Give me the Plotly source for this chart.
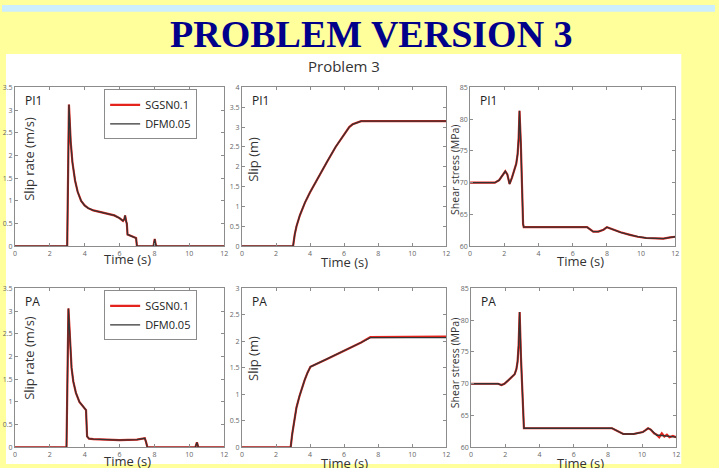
import plotly.graph_objects as go

W, H = 719, 468

# ---------------- data ----------------
time_ticks = [0, 2, 4, 6, 8, 10, 12]

# PI1 slip rate (m/s)
t_sr_pi1 = [0, 3.0, 3.1, 3.2, 3.3, 3.45, 3.6, 3.8, 4.0, 4.2, 4.5, 4.9, 5.3, 5.7, 6.0, 6.2,
            6.28, 6.32, 6.38, 6.42, 6.46, 6.6, 6.8, 6.95, 7.0, 7.95, 8.02, 8.08, 8.15, 12]
sr_pi1 = [0, 0, 3.12, 2.3, 1.85, 1.45, 1.2, 1.0, 0.9, 0.84, 0.79, 0.75, 0.72, 0.68, 0.62, 0.56,
          0.6, 0.68, 0.55, 0.5, 0.26, 0.24, 0.21, 0.18, 0, 0, 0.16, 0.03, 0, 0]

# PI1 slip (m)
t_slip_pi1 = [0, 3.0, 3.1, 3.2, 3.4, 3.7, 4.0, 4.5, 5.0, 5.5, 6.0, 6.3, 6.5, 6.8, 7.0, 12]
slip_pi1 = [0, 0, 0.3, 0.5, 0.78, 1.1, 1.36, 1.76, 2.13, 2.5, 2.83, 3.0, 3.07, 3.13, 3.15, 3.15]

# PI1 shear stress (MPa)
t_ss_pi1 = [0, 1.45, 1.7, 1.9, 2.06, 2.18, 2.31, 2.45, 2.6, 2.7, 2.78, 2.84, 2.89, 2.97, 3.1, 3.14,
            6.84, 7.0, 7.2, 7.5, 7.8, 8.0, 8.2, 8.4, 8.8, 9.35, 9.8, 10.3, 10.8, 11.3, 11.7, 12]
ss_pi1 = [70, 70, 70.4, 71.1, 71.8, 71.3, 69.8, 70.8, 72.0, 73.0, 74.5, 77.0, 81.3, 76.0, 63.5, 63,
          63, 62.7, 62.3, 62.3, 62.6, 63.0, 62.8, 62.5, 62.2, 61.8, 61.5, 61.3, 61.2, 61.2, 61.4, 61.5]

# PA slip rate (m/s)
t_sr_pa = [0, 2.96, 3.07, 3.15, 3.25, 3.35, 3.5, 3.7, 3.9, 4.02, 4.08, 4.14, 4.25, 4.5, 5.0, 6.0,
           7.0, 7.3, 7.45, 7.52, 7.6, 10.35, 10.44, 10.52, 12]
sr_pa = [0, 0, 3.06, 2.3, 1.75, 1.45, 1.2, 1.0, 0.9, 0.86, 0.82, 0.24, 0.19, 0.18, 0.17, 0.16,
         0.17, 0.18, 0.2, 0.12, 0, 0, 0.11, 0, 0]

# PA slip (m)
t_slip_pa = [0, 2.86, 2.95, 3.09, 3.2, 3.38, 3.55, 3.68, 3.85, 4.02, 5.0, 6.0, 7.0, 7.54, 10.5, 12]
slip_pa_sgsn = [0, 0, 0.25, 0.57, 0.75, 0.97, 1.15, 1.27, 1.41, 1.52, 1.67, 1.82, 1.98, 2.08, 2.08, 2.09]
slip_pa_dfm = [0, 0, 0.25, 0.57, 0.75, 0.97, 1.15, 1.27, 1.41, 1.52, 1.67, 1.82, 1.98, 2.07, 2.07, 2.07]

# PA shear stress (MPa)
t_ss_pa = [0, 1.58, 1.78, 1.95, 2.16, 2.35, 2.55, 2.65, 2.72, 2.78, 2.84, 2.92, 3.02, 3.09,
           8.24, 8.5, 8.9, 9.5, 10.04, 10.2, 10.35, 10.5, 10.7, 10.85, 11.0, 11.15, 11.3, 11.45, 11.6, 11.8, 12]
ss_pa_dfm = [70, 70, 69.8, 70.0, 70.5, 71.0, 71.5, 72.3, 73.5, 76.0, 81.3, 74.0, 66.0, 63.0,
             63.0, 62.6, 62.1, 62.1, 62.4, 62.7, 63.0, 62.8, 62.2, 61.9, 61.9, 61.85, 61.8, 61.75, 61.7, 61.65, 61.6]
ss_pa_sgsn = [70, 70, 69.8, 70.0, 70.5, 71.0, 71.5, 72.3, 73.5, 76.0, 81.3, 74.0, 66.0, 63.0,
              63.0, 62.6, 62.1, 62.1, 62.4, 62.7, 63.0, 62.8, 62.2, 62.0, 61.6, 62.2, 61.7, 62.0, 61.6, 61.8, 61.6]

series_names = ["SGSN0.1", "DFM0.05"]
panel_labels = ["PI1", "PI1", "PI1", "PA", "PA", "PA"]
y_titles = ["Slip rate (m/s)", "Slip (m)", "Shear stress (MPa)",
            "Slip rate (m/s)", "Slip (m)", "Shear stress (MPa)"]
y_ranges = [[0, 3.5], [0, 4], [60, 85], [0, 3.5], [0, 3], [60, 85]]
y_dticks = [0.5, 0.5, 5, 0.5, 0.5, 5]

RED = "#e3231c"
BLK = "#333333"
FONT = "Open Sans"

# ---------------- layout helpers ----------------
def fx(px):
    return px / W

def fy(px):
    return 1 - px / H

panels = [  # left, right, top, bottom in pixels
    (13, 224, 84, 246), (242, 448, 84, 246), (472, 679, 84, 246),
    (13, 224, 289, 451), (242, 448, 289, 451), (473, 680, 289, 451),
]

fig = go.Figure()

data_sets = [
    (t_sr_pi1, sr_pi1, t_sr_pi1, sr_pi1),
    (t_slip_pi1, slip_pi1, t_slip_pi1, slip_pi1),
    (t_ss_pi1, ss_pi1, t_ss_pi1, ss_pi1),
    (t_sr_pa, sr_pa, t_sr_pa, sr_pa),
    (t_slip_pa, slip_pa_sgsn, t_slip_pa, slip_pa_dfm),
    (t_ss_pa, ss_pa_sgsn, t_ss_pa, ss_pa_dfm),
]

for i, (tr, vr, tb, vb) in enumerate(data_sets):
    k = "" if i == 0 else str(i + 1)
    leg = "legend" if i < 3 else "legend2"
    show = i in (0, 3)
    fig.add_trace(go.Scatter(x=tr, y=vr, mode="lines", name=series_names[0],
                             line=dict(color=RED, width=2.2), xaxis="x" + k, yaxis="y" + k,
                             showlegend=show, legend=leg))
    fig.add_trace(go.Scatter(x=tb, y=vb, mode="lines", name=series_names[1],
                             line=dict(color=BLK, width=1.3), xaxis="x" + k, yaxis="y" + k,
                             showlegend=show, legend=leg))

layout = dict(
    width=W, height=H, margin=dict(l=0, r=0, t=0, b=0),
    paper_bgcolor="#ffff9c", plot_bgcolor="white",
    showlegend=True,
    font=dict(family=FONT, color="#333"),
)

annotations = []
shapes = [
    dict(type="rect", xref="paper", yref="paper", x0=0, x1=1, y0=fy(7), y1=1,
         fillcolor="#cdeefd", line=dict(width=0), layer="below"),
    dict(type="rect", xref="paper", yref="paper", x0=fx(4), x1=fx(685), y0=0, y1=fy(50),
         fillcolor="white", line=dict(width=0), layer="below"),
]

ytitle_pos = [(27, 157, 13), (253, 157, 13), (457, 168, 10.5),
              (27, 360, 13), (253, 360, 13), (457, 365, 10.5)]
xtitle_pos = [(127, 259), (345, 262), (583, 261), (127, 465), (345, 467), (583, 467)]

for i, (l, r, t, b) in enumerate(panels):
    k = "" if i == 0 else str(i + 1)
    layout["xaxis" + k] = dict(
        domain=[fx(l), fx(r)], range=[0, 12], tickvals=time_ticks, anchor="y" + k,
        showline=True, linecolor="#8c8c8c", linewidth=1, mirror="ticks",
        ticks="inside", ticklen=3, tickcolor="#8c8c8c", showgrid=False, zeroline=False,
        tickfont=dict(size=7, color="#666"), fixedrange=True,
    )
    layout["yaxis" + k] = dict(
        domain=[fy(b), fy(t)], range=y_ranges[i], dtick=y_dticks[i], anchor="x" + k,
        showline=True, linecolor="#8c8c8c", linewidth=1, mirror="ticks",
        ticks="inside", ticklen=3, tickcolor="#8c8c8c", showgrid=False, zeroline=False,
        tickfont=dict(size=7, color="#666"), fixedrange=True,
    )
    annotations.append(dict(text=panel_labels[i], xref="paper", yref="paper",
                            x=fx(l + 8), y=fy(t + 3), xanchor="left", yanchor="top",
                            showarrow=False, font=dict(size=12, color="#222", family=FONT)))
    ax, ay, fs = ytitle_pos[i]
    annotations.append(dict(text=y_titles[i], xref="paper", yref="paper",
                            x=fx(ax), y=fy(ay), xanchor="center", yanchor="middle", textangle=-90,
                            showarrow=False, font=dict(size=fs, color="#333", family=FONT)))
    tx, ty = xtitle_pos[i]
    annotations.append(dict(text="Time (s)", xref="paper", yref="paper",
                            x=fx(tx), y=fy(ty), xanchor="center", yanchor="middle",
                            showarrow=False, font=dict(size=13, color="#333", family=FONT)))

annotations.append(dict(text="<b>PROBLEM VERSION 3</b>", xref="paper", yref="paper",
                        x=fx(373), y=fy(30), xanchor="center", yanchor="middle", showarrow=False,
                        font=dict(size=38, color="#00008b", family="Liberation Serif")))
annotations.append(dict(text="Problem 3", xref="paper", yref="paper",
                        x=fx(345), y=fy(62), xanchor="center", yanchor="middle", showarrow=False,
                        font=dict(size=15, color="#333", family=FONT)))

leg_common = dict(xanchor="left", yanchor="top", bgcolor="white", bordercolor="#8c8c8c",
                  borderwidth=1, font=dict(size=11, color="#222", family=FONT),
                  itemwidth=30, tracegroupgap=0)
layout["legend"] = dict(x=fx(103), y=fy(86), **leg_common)
layout["legend2"] = dict(x=fx(103), y=fy(291), **leg_common)
layout["annotations"] = annotations
layout["shapes"] = shapes

fig.update_layout(**layout)
fig.write_html("out.html", config={"displayModeBar": False},
               post_script="document.body.style.margin='0';")
